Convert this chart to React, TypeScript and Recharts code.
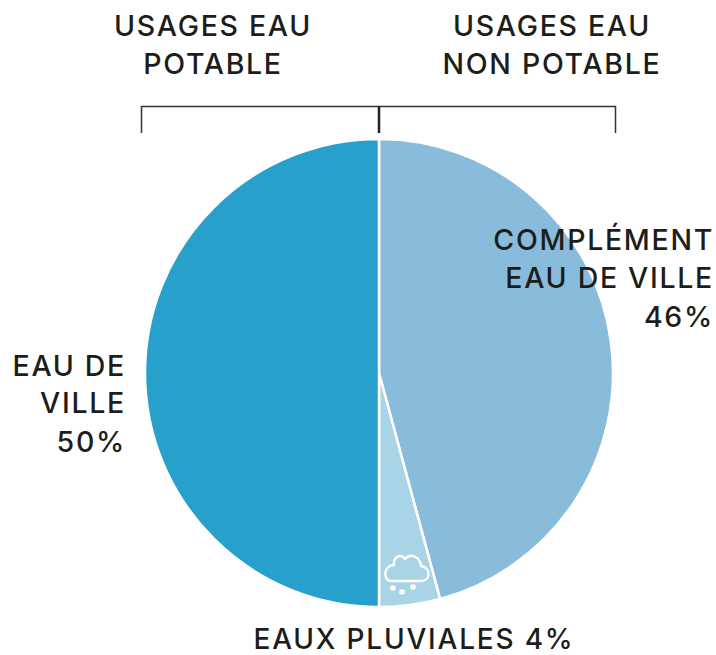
import React from "react";
import { PieChart, Pie, Cell } from "recharts";

const sliceNames = ["Complément eau de ville", "Eaux pluviales", "Eau de ville"];
const sliceValues = [45.8, 4.2, 50];
const sliceColors = ["#88bcda", "#a9d4e5", "#27a0cb"];
const pieData = sliceNames.map((name, i) => ({ name, value: sliceValues[i] }));

const FONT = "Inter, 'Liberation Sans', sans-serif";
const INK = "#1d1d1b";

const headers = [
  { x: 213, y: 36, text: "USAGES EAU" },
  { x: 213, y: 74, text: "POTABLE" },
  { x: 552, y: 36, text: "USAGES EAU" },
  { x: 552, y: 74, text: "NON POTABLE" },
];
const sideLabels = [
  { x: 714, y: 250, text: "COMPLÉMENT" },
  { x: 714, y: 288, text: "EAU DE VILLE" },
  { x: 714, y: 327, text: "46%" },
  { x: 126, y: 376, text: "EAU DE" },
  { x: 126, y: 413, text: "VILLE" },
  { x: 126, y: 452, text: "50%" },
];
const bottomLabel = "EAUX PLUVIALES 4%";

export default function App() {
  return (
    <div style={{ position: "absolute", left: 0, top: 0, width: 716, height: 655, background: "#fff" }}>
      <PieChart width={716} height={655} margin={{ top: 0, right: 0, bottom: 0, left: 0 }}>
        <Pie
          data={pieData}
          dataKey="value"
          nameKey="name"
          cx={379}
          cy={373}
          innerRadius={0}
          outerRadius={234}
          startAngle={90}
          endAngle={-270}
          stroke="#ffffff"
          strokeWidth={2.5}
          isAnimationActive={false}
          label={false}
          labelLine={false}
        >
          {pieData.map((d, i) => (
            <Cell key={d.name} fill={sliceColors[i]} />
          ))}
        </Pie>
      </PieChart>

      <svg width={716} height={655} style={{ position: "absolute", left: 0, top: 0, pointerEvents: "none" }}>
        <g stroke="#333333" fill="none">
          <path d="M141.5 133 V106.5 H615.5 V133" strokeWidth={1.5} />
          <path d="M379 106 V133" strokeWidth={2.5} stroke="#222222" />
        </g>

        <g fontFamily={FONT} fontSize={28.5} fontWeight={500} fill={INK} letterSpacing={1.7}>
          {headers.map((t, i) => (
            <text key={i} x={t.x} y={t.y} textAnchor="middle">{t.text}</text>
          ))}
          {sideLabels.map((t, i) => (
            <text key={i} x={t.x} y={t.y} textAnchor="end">{t.text}</text>
          ))}
          <text x={414} y={648.5} textAnchor="middle" fontSize={28} letterSpacing={1.8}>{bottomLabel}</text>
        </g>

        <g fill="none" stroke="#ffffff" strokeWidth={2.4} strokeLinecap="round" strokeLinejoin="round">
          <path d="M391 581 H421 C431 581 431 567 421 566 C420 556 410 553 405 559 C401 553 393 557 394 565 C383 565 383 581 391 581 Z" />
        </g>
        <g fill="#ffffff">
          <circle cx={393} cy={588} r={2.8} />
          <circle cx={402} cy={592} r={2.8} />
          <circle cx={413} cy={587} r={2.8} />
        </g>
      </svg>
    </div>
  );
}
